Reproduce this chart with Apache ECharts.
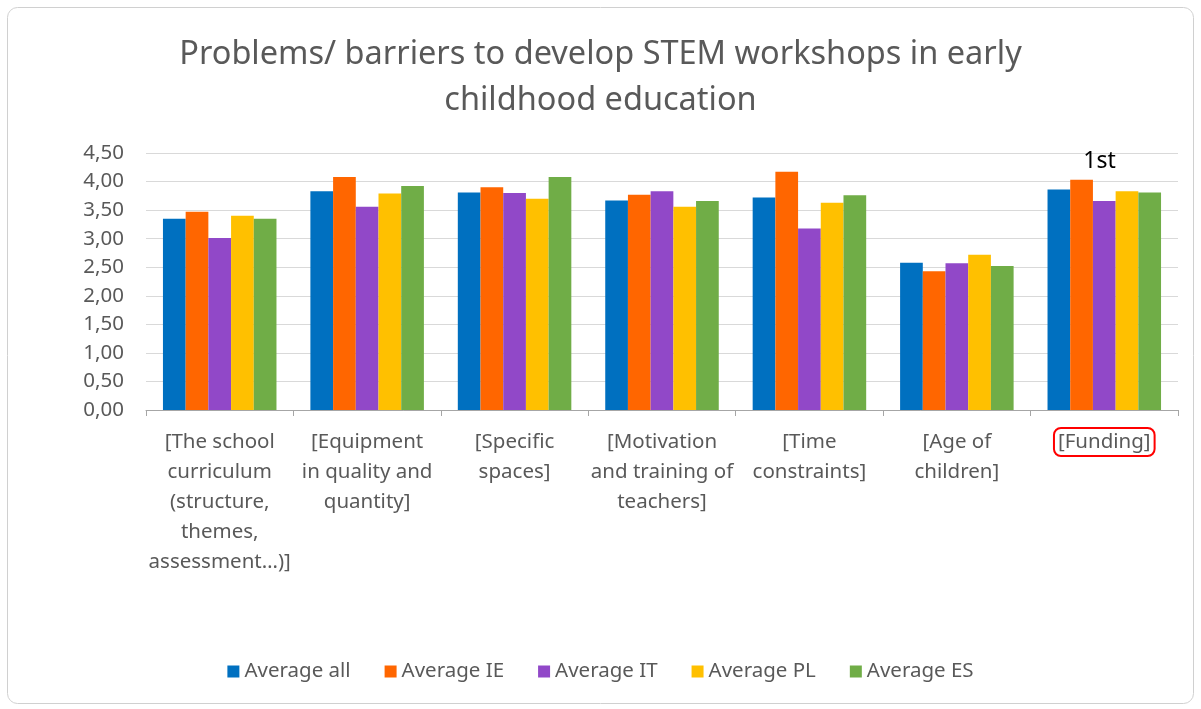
<!DOCTYPE html>
<html>
<head>
<meta charset="utf-8">
<script src="https://cdn.jsdelivr.net/npm/echarts@6/dist/echarts.min.js"></script>
<style>
  html, body { margin: 0; padding: 0; background: #fff; }
  #main { width: 1201px; height: 709px; }
</style>
</head>
<body>
<div id="main"></div>
<script>
var categories = [
  '[The school\ncurriculum\n(structure,\nthemes,\nassessment…)]',
  '[Equipment\nin quality and\nquantity]',
  '[Specific\nspaces]',
  '[Motivation\nand training of\nteachers]',
  '[Time\nconstraints]',
  '[Age of\nchildren]',
  '[Funding]'
]
var seriesNames = ['Average all', 'Average IE', 'Average IT', 'Average PL', 'Average ES']
var avgAll = [3.35, 3.83, 3.81, 3.67, 3.72, 2.58, 3.86]
var avgIE = [3.47, 4.08, 3.90, 3.77, 4.17, 2.43, 4.03]
var avgIT = [3.01, 3.56, 3.80, 3.83, 3.18, 2.57, 3.66]
var avgPL = [3.40, 3.79, 3.70, 3.56, 3.63, 2.72, 3.83]
var avgES = [3.35, 3.92, 4.08, 3.66, 3.76, 2.52, 3.81]
var colors = ['#0070C0', '#FF6600', '#9148C8', '#FFC000', '#70AD47']

var font = 'Noto Sans'
var gray = '#595959'

var myChart = echarts.init(document.getElementById('main'))

var allData = [avgAll, avgIE, avgIT, avgPL, avgES]
var series = seriesNames.map(function (name, i) {
  var s = {
    name: name,
    type: 'bar',
    barGap: '0%',
    barCategoryGap: '23%',
    itemStyle: { color: colors[i] },
    data: allData[i].slice()
  }
  if (i === 1) {
    // "1st" mark over the Funding group
    s.data[6] = {
      value: allData[i][6],
      label: {
        show: true,
        position: 'top',
        formatter: '1st',
        offset: [18, -2],
        color: '#000',
        fontFamily: font,
        fontSize: 23
      }
    }
  }
  return s
})

myChart.setOption({
  color: colors,
  title: {
    text: 'Problems/ barriers to develop STEM workshops in early\nchildhood education',
    left: 'center',
    top: 27,
    textStyle: {
      color: gray,
      fontFamily: font,
      fontWeight: 'normal',
      fontSize: 32.5,
      lineHeight: 46
    }
  },
  graphic: [{
    type: 'rect',
    shape: { x: 7.5, y: 7.5, width: 1186, height: 696, r: 10 },
    style: { fill: 'none', stroke: '#d0d0d0', lineWidth: 1 },
    silent: true
  }],
  legend: {
    data: seriesNames,
    bottom: 22,
    left: 'center',
    icon: 'rect',
    itemWidth: 12,
    itemHeight: 12,
    itemGap: 34,
    textStyle: { color: gray, fontFamily: font, fontSize: 20.5 }
  },
  grid: { left: 146, right: 23, top: 153, bottom: 299 },
  xAxis: {
    type: 'category',
    data: categories,
    axisLine: { lineStyle: { color: '#a6a6a6' } },
    axisTick: { show: true, length: 6, lineStyle: { color: '#a6a6a6' } },
    axisLabel: {
      interval: 0,
      margin: 17,
      color: gray,
      fontFamily: font,
      fontSize: 20.5,
      lineHeight: 30,
      formatter: function (v) {
        if (v === '[Funding]') return '{box|' + v + '}'
        return v
      },
      rich: {
        box: {
          color: gray,
          fontFamily: font,
          fontSize: 20.5,
          borderColor: '#FF0000',
          borderWidth: 2,
          borderRadius: 7,
          padding: [4, 4, 3, 4]
        }
      }
    }
  },
  yAxis: {
    type: 'value',
    min: 0,
    max: 4.5,
    interval: 0.5,
    axisLine: { show: false },
    axisTick: { show: false },
    splitLine: { lineStyle: { color: '#d9d9d9', width: 1 } },
    axisLabel: {
      margin: 22,
      color: gray,
      fontFamily: font,
      fontSize: 20.5,
      formatter: function (v) { return v.toFixed(2).replace('.', ',') }
    }
  },
  series: series
})
</script>
</body>
</html>
